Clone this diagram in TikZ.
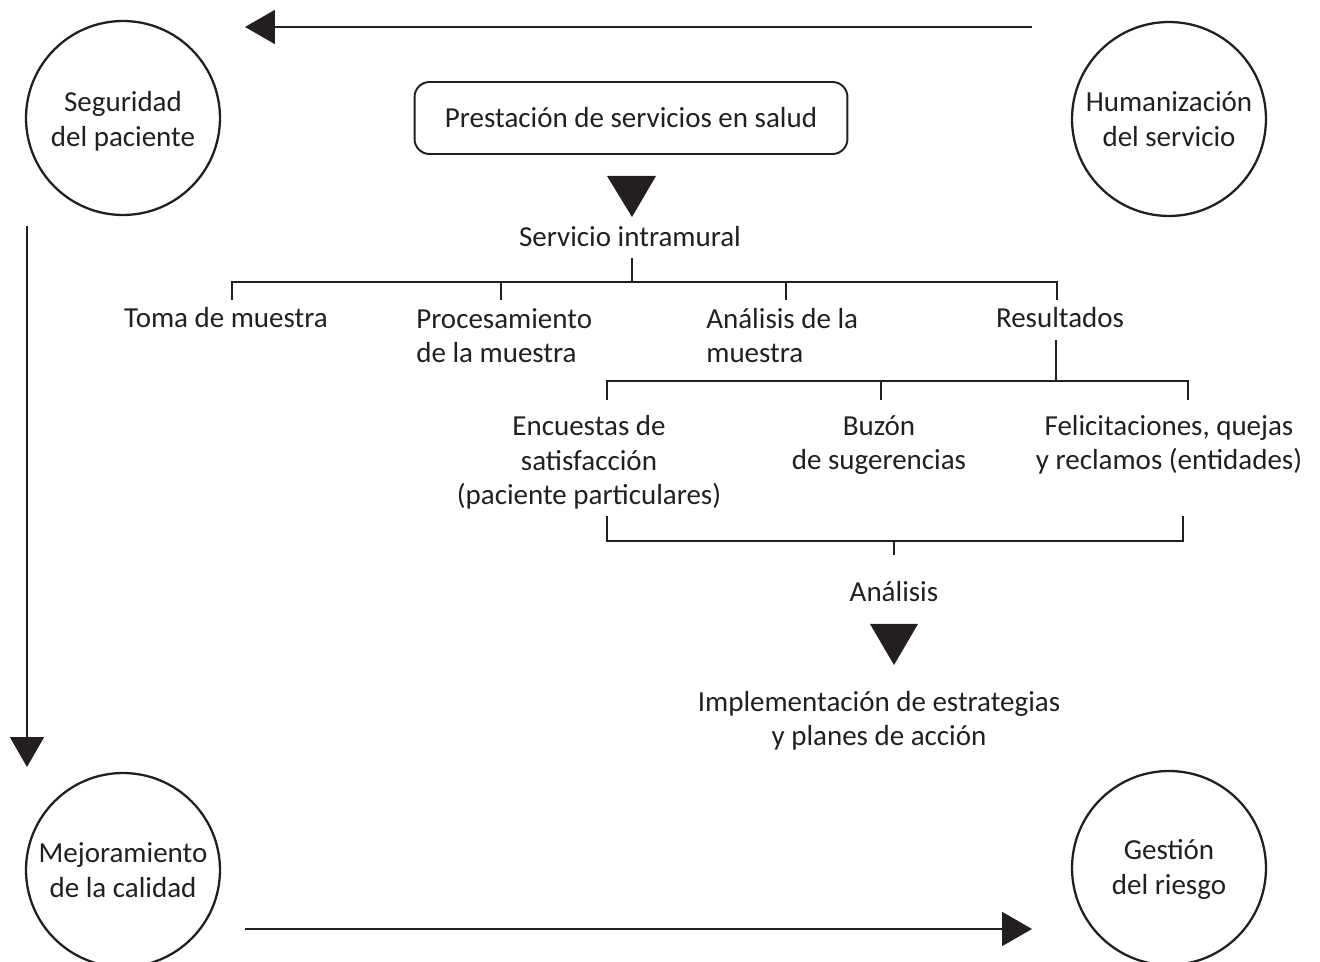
\documentclass[tikz,border=0pt]{standalone}
\usepackage{fontspec}
\setmainfont{Carlito}
\usetikzlibrary{arrows.meta}
\definecolor{ink}{HTML}{231F20}
\begin{document}
\begin{tikzpicture}[x=0.02cm,y=-0.02cm,
  lbl/.style={font=\fontsize{16.5}{19.9}\selectfont, text=ink, inner sep=0pt, align=center},
  circ/.style={lbl, draw=ink, line width=1.3pt, circle, minimum size=3.88cm},
  ln/.style={draw=ink, line width=1.1pt},
  bigarrow/.style={ln, -{Triangle[length=0.6cm, width=0.68cm]}},
  tri/.style={fill=ink}
]
\useasboundingbox (0,0) rectangle (1320,962);
% circles
\node[circ] (seg) at (123,118) {\rule{0pt}{14.7pt}Seguridad\\del paciente};
\node[circ] (hum) at (1169,119) {\rule{0pt}{11.5pt}Humanización\\del servicio};
\node[circ] (mej) at (123,870) {Mejoramiento\\de la calidad};
\node[circ] (ges) at (1169,868) {\rule{0pt}{13.6pt}Gestión\\del riesgo};
% big arrows
\coordinate (a1s) at (1032,27); \coordinate (a1e) at (245,27);
\coordinate (a2s) at (27,226); \coordinate (a2e) at (27,767);
\coordinate (a3s) at (245,929); \coordinate (a3e) at (1032,929);
\draw[bigarrow] (a1s) -- (a1e);
\draw[bigarrow] (a2s) -- (a2e);
\draw[bigarrow] (a3s) -- (a3e);
% top box
\node[lbl, draw=ink, line width=1.1pt, rounded corners=0.3cm, minimum width=8.66cm, minimum height=1.44cm] (box) at (631,118) {Prestación de servicios en salud};
\fill[tri] (607,176) -- (656,176) -- (632,217) -- cycle;
\node[lbl, anchor=base] (si) at (630,247) {Servicio intramural};
% first bracket
\coordinate (b0) at (632,258); \coordinate (b1) at (632,282);
\coordinate (bl) at (232,282); \coordinate (br) at (1057,282);
\draw[ln] (b0) -- (b1);
\draw[ln] (bl) -- (br);
\foreach \x in {232,501,786,1057} \draw[ln] (\x,281) -- (\x,300);
\node[lbl, anchor=base] (toma) at (226,328) {Toma de muestra};
\node[lbl, anchor=base west, align=left] (proc) at (416,363) {Procesamiento\\de la muestra};
\node[lbl, anchor=base west, align=left] (anal) at (706,363) {Análisis de la\\muestra};
\node[lbl, anchor=base] (res) at (1060,328) {Resultados};
% second bracket
\coordinate (c0) at (1056,340); \coordinate (c1) at (1056,381);
\draw[ln] (c0) -- (c1);
\draw[ln] (607,381) -- (1188,381);
\foreach \x in {607,881,1188} \draw[ln] (\x,380) -- (\x,400);
\node[lbl, anchor=base] (enc) at (589,505) {Encuestas de\\satisfacción\\(paciente particulares)};
\node[lbl, anchor=base] (buz) at (879,470) {Buzón\\de sugerencias};
\node[lbl, anchor=base] (fel) at (1169,470) {Felicitaciones, quejas\\y reclamos (entidades)};
% third bracket
\draw[ln] (607,516) -- (607,541) -- (1183,541) -- (1183,516);
\draw[ln] (894,541) -- (894,555);
\node[lbl, anchor=base] (ana) at (894,602) {Análisis};
\fill[tri] (870,624) -- (918,624) -- (894,665) -- cycle;
\node[lbl, anchor=base] (imp) at (879,746) {Implementación de estrategias\\y planes de acción};
\end{tikzpicture}
\end{document}
